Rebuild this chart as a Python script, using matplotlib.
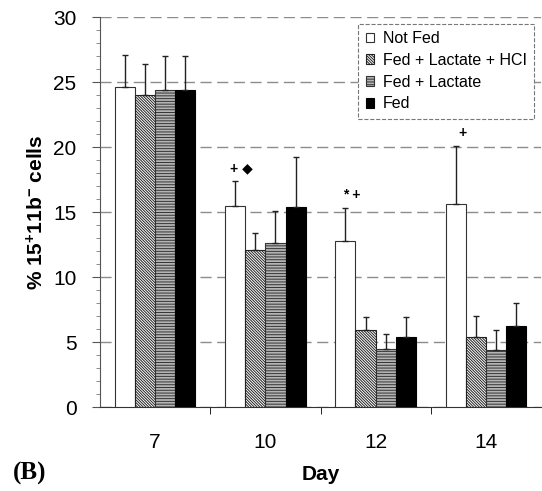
import matplotlib
matplotlib.use("Agg")
import matplotlib.pyplot as plt
import numpy as np
from matplotlib.ticker import MultipleLocator, FixedLocator

plt.rcParams["font.family"] = ["Liberation Sans", "DejaVu Sans"]
plt.rcParams["mathtext.fontset"] = "custom"
plt.rcParams["mathtext.rm"] = "Liberation Sans:bold"
plt.rcParams["mathtext.default"] = "rm"
plt.rcParams["hatch.linewidth"] = 0.7

days = ["7", "10", "12", "14"]
series_names = ["Not Fed", "Fed + Lactate + HCI", "Fed + Lactate", "Fed"]
not_fed = [24.6, 15.5, 12.8, 15.6]
not_fed_err = [2.5, 1.9, 2.5, 4.5]
lact_hcl = [24.0, 12.1, 5.9, 5.4]
lact_hcl_err = [2.4, 1.3, 1.05, 1.6]
lact = [24.4, 12.6, 4.5, 4.4]
lact_err = [2.6, 2.5, 1.1, 1.5]
fed = [24.4, 15.4, 5.4, 6.2]
fed_err = [2.6, 3.8, 1.55, 1.8]
# significance marks: (day index, text)
marks = [(1, "+ \u25C6"), (2, "* +"), (3, "+")]

values = [not_fed, lact_hcl, lact, fed]
errors = [not_fed_err, lact_hcl_err, lact_err, fed_err]
faces = ["white", "white", "#b4b4b4", "black"]
hatches = [None, "\\" * 12, "------", None]
edges = ["#333333", "#222222", "#333333", "black"]

fig = plt.figure(figsize=(5.42, 4.91), dpi=100)
ax = fig.add_axes([0.1845, 0.171, 0.8137, 0.7943])

x = np.arange(len(days))
w = 0.183
for i, (vals, errs) in enumerate(zip(values, errors)):
    xi = x + (i - 1.5) * w
    ax.bar(xi, vals, width=w, color=faces[i], hatch=hatches[i],
           edgecolor=edges[i], linewidth=0.8, label=series_names[i], zorder=3)
    ax.errorbar(xi, vals, yerr=[np.zeros(len(errs)), errs], fmt="none",
                ecolor="#222222", elinewidth=1.0, capsize=2.5, capthick=1.0,
                zorder=4)

for di, txt in marks:
    xm = x[di] - 1.5 * w + 0.06
    ym = not_fed[di] + not_fed_err[di] + 1.0
    ax.text(xm, ym, txt, ha="center", va="center", fontsize=10,
            fontweight="bold", family=["Liberation Sans", "DejaVu Sans"])

ax.set_xlim(-0.5, len(days) - 0.5)
ax.set_ylim(0, 30)
ax.yaxis.set_major_locator(MultipleLocator(5))
ax.yaxis.set_minor_locator(MultipleLocator(1))
ax.set_xticks(x)
ax.set_xticklabels(days, fontsize=15)
ax.xaxis.set_minor_locator(FixedLocator(x[:-1] + 0.5))
ax.tick_params(axis="x", which="major", length=0, pad=19)
ax.tick_params(axis="x", which="minor", length=5, direction="out")
ax.tick_params(axis="y", which="major", length=6, labelsize=15, pad=11,
               color="#555555")
ax.tick_params(axis="y", which="minor", length=3, color="#777777")

ax.grid(axis="y", color="#8c8c8c", linestyle=(0, (8, 4)), linewidth=1.0,
        zorder=0)
for s in ["top", "right"]:
    ax.spines[s].set_visible(False)
ax.spines["left"].set_color("#555555")
ax.spines["bottom"].set_color("#333333")

ax.set_ylabel(r"% 15$^{+}$11b$^{-}$ cells", fontsize=15, fontweight="bold",
              labelpad=4)
ax.set_xlabel("Day", fontsize=15, fontweight="bold", labelpad=9)

leg = ax.legend(loc="upper right", bbox_to_anchor=(0.985, 0.982),
                borderaxespad=0, fontsize=11.5, fancybox=False,
                handlelength=0.55, handleheight=0.55, handletextpad=0.55,
                labelspacing=0.42, borderpad=0.45, framealpha=1)
leg.get_frame().set_edgecolor("#777777")
leg.get_frame().set_linestyle("--")
leg.get_frame().set_linewidth(0.8)
leg.set_zorder(5)

fig.text(0.024, 0.035, "(B)", fontsize=18, fontweight="bold",
         family="Liberation Serif", va="center", ha="left")

fig.savefig("out.png", dpi=100)
